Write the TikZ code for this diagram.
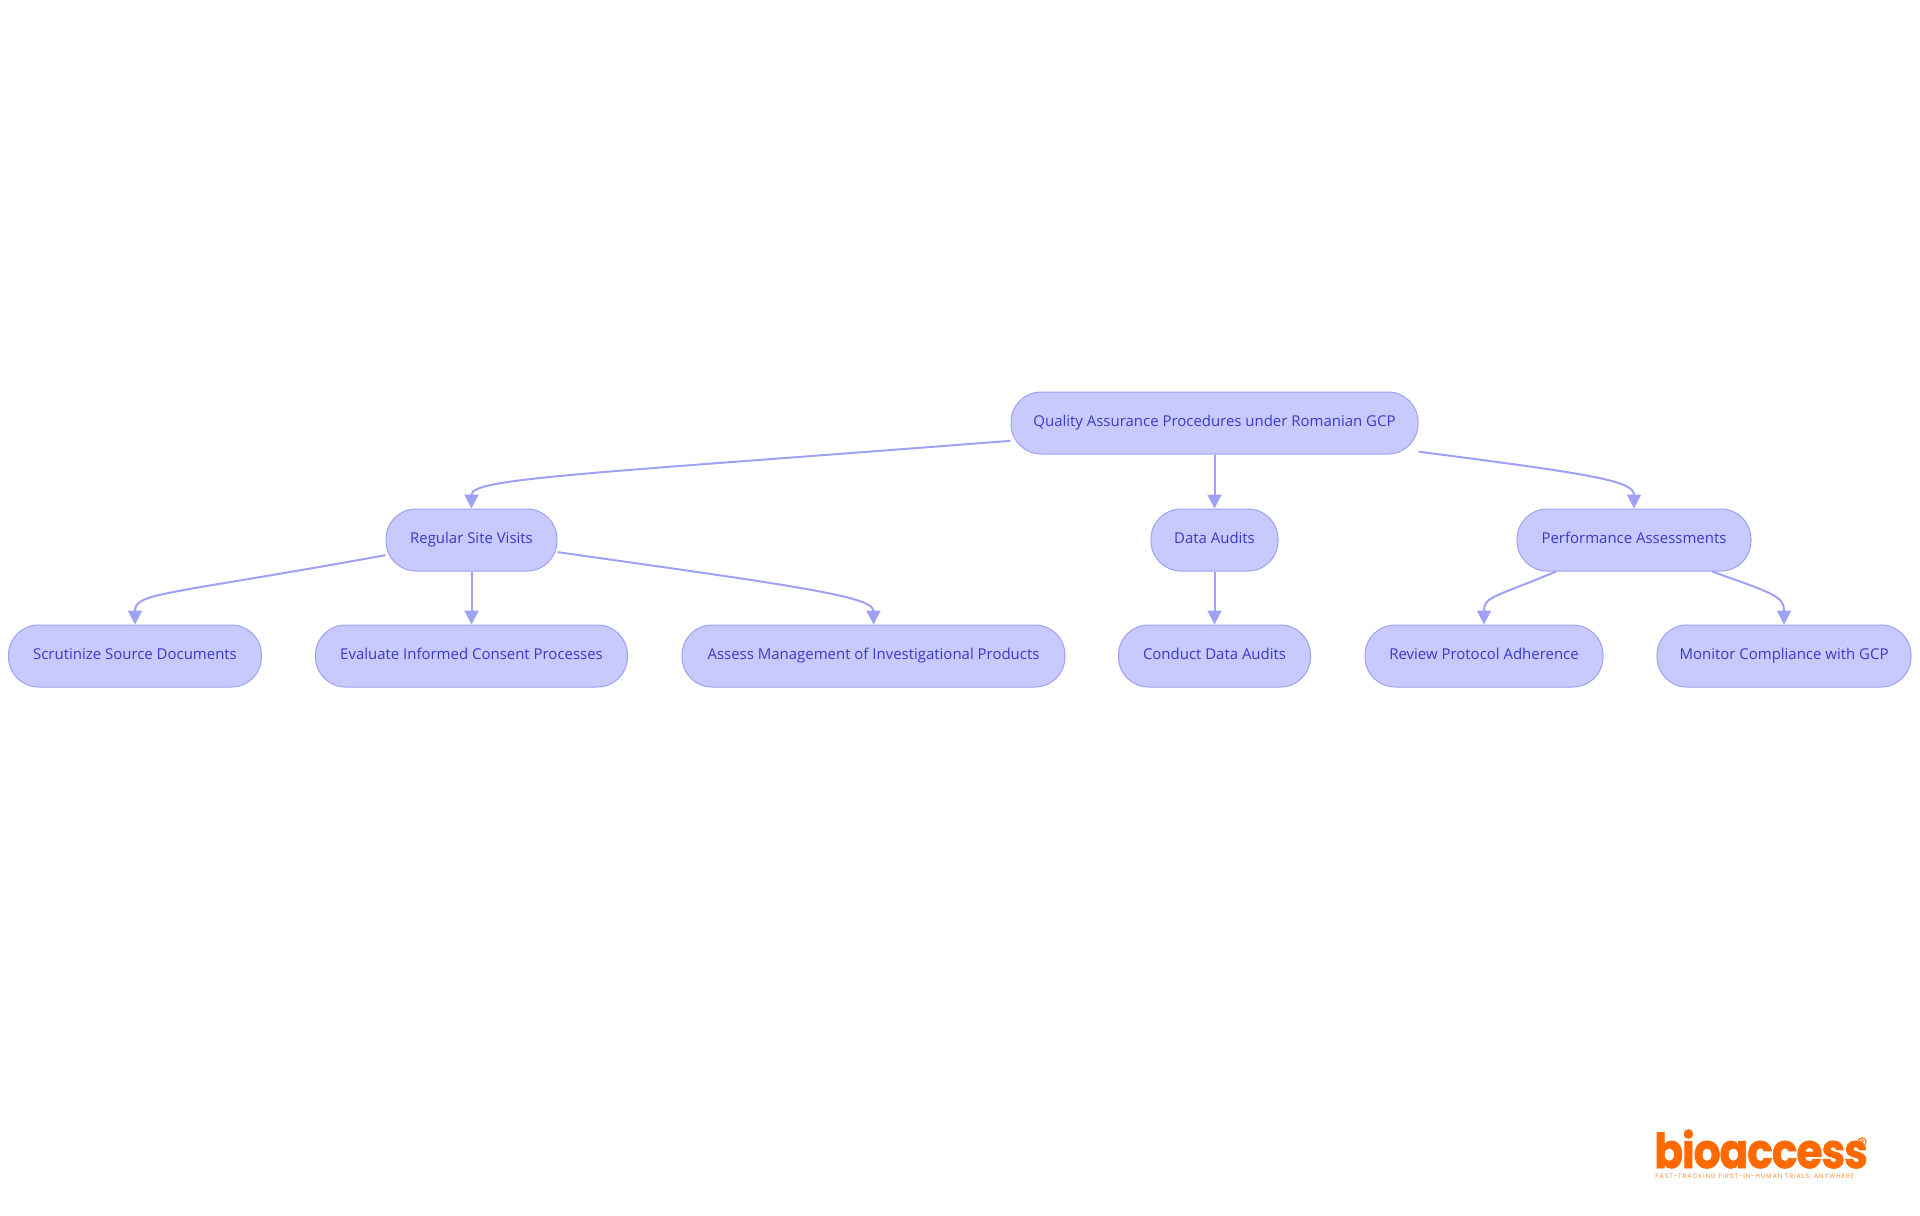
\documentclass[tikz,border=0pt]{standalone}
\usepackage{fontspec}
\usepackage{xcolor}
\usetikzlibrary{arrows.meta}
\setmainfont{Open Sans}
\newfontfamily\logofont[FakeStretch=.88,LetterSpace=-2,FakeBold=1.5]{Poppins}
\newfontfamily\tagfont[LetterSpace=14]{Poppins}
\definecolor{boxfill}{HTML}{C8CAFD}
\definecolor{boxline}{HTML}{9FA1F4}
\definecolor{boxtext}{HTML}{3A3AC8}
\definecolor{logoorange}{HTML}{FF6A00}
\tikzset{
  box/.style={draw=boxline, fill=boxfill, text=boxtext, line width=.5pt, rounded corners=15pt,
    minimum height=31pt, inner sep=0pt, text height=5.5pt, text depth=1.6pt, font=\fontsize{7.48}{9}\selectfont},
  edge/.style={draw=boxline, line width=1pt, -{Triangle[length=7pt,width=7pt]}},
}
\begin{document}
\begin{tikzpicture}[x=.5pt, y=-.5pt]
  \useasboundingbox (0,0) rectangle (1920,1215);

  \node[box, minimum width=203.5pt] (root) at (1214.5, 423) {Quality Assurance Procedures under Romanian GCP};

  \node[box, minimum width=85.5pt] (regular) at (471.5, 540) {Regular Site Visits};
  \node[box, minimum width=63.5pt] (data) at (1214.5, 540) {Data Audits};
  \node[box, minimum width=117pt] (perf) at (1634, 540) {Performance Assessments};

  \node[box, minimum width=126.5pt] (scrutinize) at (135, 656) {Scrutinize Source Documents};
  \node[box, minimum width=156pt] (evaluate) at (471.5, 656) {Evaluate Informed Consent Processes};
  \node[box, minimum width=191.5pt] (assess) at (873.5, 656) {Assess Management of Investigational Products};
  \node[box, minimum width=96pt] (conduct) at (1214.5, 656) {Conduct Data Audits};
  \node[box, minimum width=119pt] (review) at (1484, 656) {Review Protocol Adherence};
  \node[box, minimum width=127pt] (monitor) at (1784, 656) {Monitor Compliance with GCP};

  \draw[edge] (root.185.3) .. controls +(-440,34) and +(0,-30) .. (regular.north);
  \draw[edge] (root.south) -- (data.north);
  \draw[edge] (root.-8.1) .. controls +(170,22) and +(0,-28) .. (perf.north);

  \draw[edge] (regular.190) .. controls +(-220,40) and +(0,-32) .. (scrutinize.north);
  \draw[edge] (regular.south) -- (evaluate.north);
  \draw[edge] (regular.-8) .. controls +(240,34) and +(0,-28) .. (assess.north);
  \draw[edge] (data.south) -- (conduct.north);
  \draw[edge] (perf.202.2) .. controls +(-62,26) and +(0,-28) .. (review.north);
  \draw[edge] (perf.-22.2) .. controls +(62,22) and +(0,-28) .. (monitor.north);

  % logo
  \node[text=logoorange, inner sep=0pt, anchor=base west, font=\logofont\bfseries\fontsize{24}{24}\selectfont] (logo) at (1654, 1168) {bioaccess};
  \node[text=logoorange, draw=logoorange, line width=.5pt, circle, inner sep=.4pt, font=\logofont\fontsize{3.5}{4}\selectfont] (reg) at (1862, 1142) {R};
  \node[text=logoorange!75, inner sep=0pt, anchor=west, font=\tagfont\fontsize{3.2}{4}\selectfont] (tagline) at (1655, 1177) {FAST-TRACKING FIRST-IN-HUMAN TRIALS, ANYWHERE};
\end{tikzpicture}
\end{document}
